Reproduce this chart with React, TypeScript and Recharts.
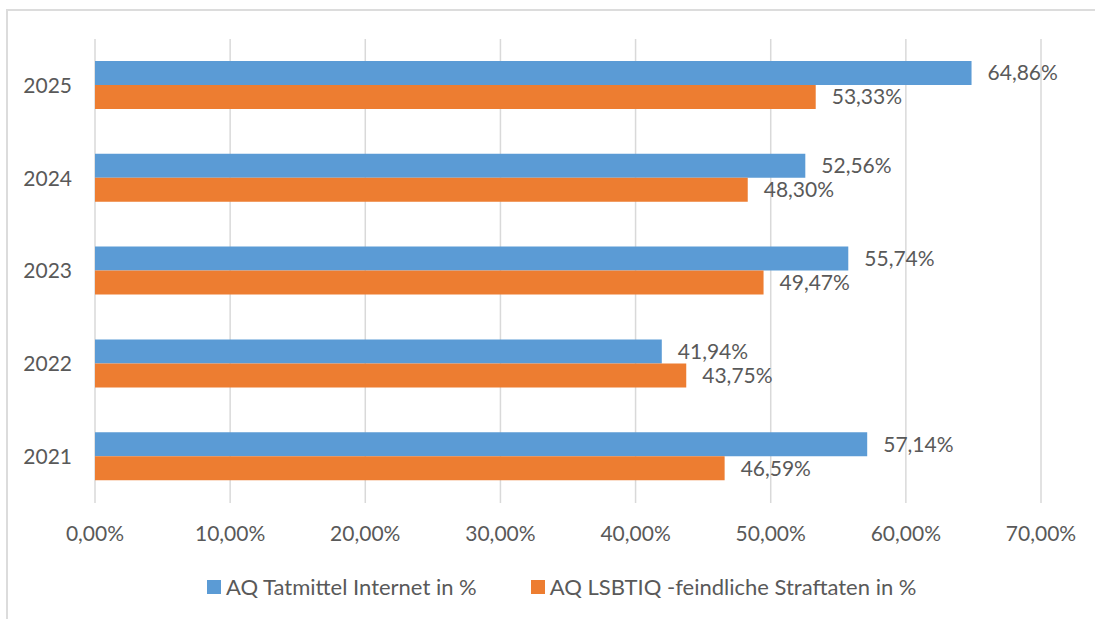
import {
  BarChart, Bar, XAxis, YAxis, CartesianGrid, LabelList, Legend
} from "recharts";

/* categories top → bottom, as in the source chart */
const years = ["2025", "2024", "2023", "2022", "2021"];
const internetPct = [64.86, 52.56, 55.74, 41.94, 57.14];
const lsbtiqPct = [53.33, 48.3, 49.47, 43.75, 46.59];
const xTicks = [0, 10, 20, 30, 40, 50, 60, 70];

const seriesNames = {
  internet: "AQ Tatmittel Internet in %",
  lsbtiq: "AQ LSBTIQ -feindliche Straftaten in %",
};

const BLUE = "#5B9BD5";
const ORANGE = "#ED7D31";
const TEXT = "#595959";
const FONT = "Lato, 'Open Sans', sans-serif";

const rows = years.map((year, i) => ({
  year,
  internet: internetPct[i],
  lsbtiq: lsbtiqPct[i],
}));

const pct = (v: number) => v.toFixed(2).replace(".", ",") + "%";

function LegendBox() {
  const items = [
    { name: seriesNames.internet, color: BLUE },
    { name: seriesNames.lsbtiq, color: ORANGE },
  ];
  return (
    <div style={{ display: "flex", alignItems: "center", gap: 54, fontFamily: FONT }}>
      {items.map(it => (
        <div key={it.name} style={{ display: "flex", alignItems: "center", gap: 5 }}>
          <span style={{ width: 14, height: 14, background: it.color, display: "inline-block" }} />
          <span style={{ color: TEXT, fontSize: 22, lineHeight: "26px", whiteSpace: "nowrap" }}>
            {it.name}
          </span>
        </div>
      ))}
    </div>
  );
}

export default function App() {
  return (
    <div
      style={{
        position: "absolute", left: 0, top: 0, width: 1095, height: 619,
        background: "#fff", overflow: "hidden", fontFamily: FONT,
      }}
    >
      {/* chart frame: only top and left edges show in the crop */}
      <div
        style={{
          position: "absolute", left: 6, top: 9, width: 1200, height: 700,
          borderTop: "2px solid #dcdcdc", borderLeft: "2px solid #dcdcdc",
        }}
      />
      <BarChart
        width={1095}
        height={619}
        data={rows}
        layout="vertical"
        margin={{ top: 39, right: 54, left: 35, bottom: 66 }}
        barGap={0}
        barSize={24}
      >
        <CartesianGrid horizontal={false} stroke="#d9d9d9" strokeWidth={1.5} />
        <XAxis
          type="number"
          domain={[0, 70]}
          ticks={xTicks}
          tickFormatter={pct}
          axisLine={false}
          tickLine={false}
          tickSize={0}
          tickMargin={23}
          height={50}
          interval={0}
          tick={{ fill: TEXT, fontSize: 21, fontFamily: FONT }}
        />
        <YAxis
          type="category"
          dataKey="year"
          width={60}
          axisLine={false}
          tickLine={false}
          tickSize={0}
          tickMargin={23}
          tick={{ fill: TEXT, fontSize: 21, fontFamily: FONT }}
        />
        <Legend
          layout="horizontal"
          align="center"
          verticalAlign="middle"
          wrapperStyle={{ left: 207, top: 574, width: "auto", height: 26 }}
          content={() => <LegendBox />}
        />
        <Bar dataKey="internet" name={seriesNames.internet} fill={BLUE} isAnimationActive={false}>
          <LabelList
            dataKey="internet"
            position="right"
            offset={16}
            formatter={(v: any) => pct(Number(v))}
            style={{ fill: TEXT, fontSize: 21, fontFamily: FONT }}
          />
        </Bar>
        <Bar dataKey="lsbtiq" name={seriesNames.lsbtiq} fill={ORANGE} isAnimationActive={false}>
          <LabelList
            dataKey="lsbtiq"
            position="right"
            offset={16}
            formatter={(v: any) => pct(Number(v))}
            style={{ fill: TEXT, fontSize: 21, fontFamily: FONT }}
          />
        </Bar>
      </BarChart>
    </div>
  );
}
